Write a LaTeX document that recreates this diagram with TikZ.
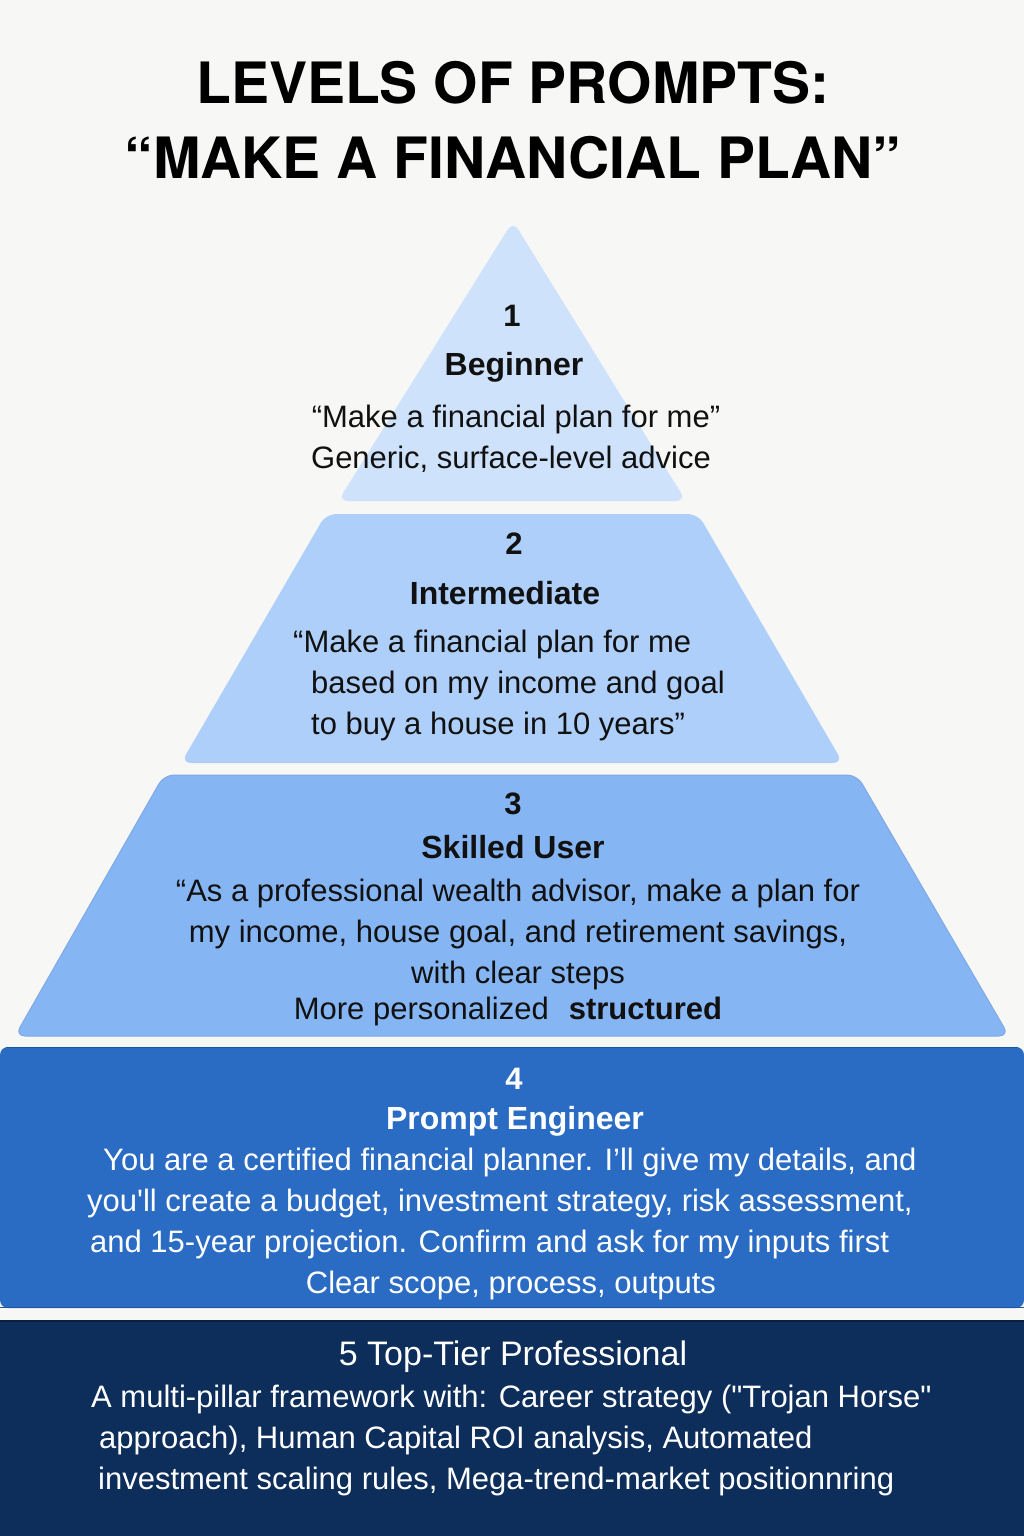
\documentclass[tikz,border=0pt]{standalone}
\usepackage{fontspec}
\setmainfont{Liberation Sans}
\newfontfamily\titlefont{TeX Gyre Heros}
\definecolor{bgcol}{HTML}{F7F7F5}
\definecolor{tierA}{HTML}{CFE2FC}
\definecolor{tierB}{HTML}{AECFFA}
\definecolor{tierC}{HTML}{86B5F4}
\definecolor{tierD}{HTML}{2A6BC3}
\definecolor{tierE}{HTML}{0D2D5B}
\definecolor{inkcol}{HTML}{111111}
\tikzset{
  numtxt/.style={inner sep=0pt, text=inkcol, font=\fontsize{31}{36}\selectfont\bfseries},
  headtxt/.style={inner sep=0pt, text=inkcol, font=\fontsize{32}{38}\selectfont\bfseries},
  bodytxt/.style={inner sep=0pt, text=inkcol, font=\fontsize{31}{41}\selectfont},
  slab/.style={rounded corners=10pt}
}
\begin{document}
\begin{tikzpicture}[x=1pt,y=-1pt]
 \def\W{1024}
 \def\H{1536}

 \useasboundingbox (0,0) rectangle (\W,\H);
 \fill[bgcol] (0,0) rectangle (\W,\H);

 \path coordinate (T1) at (513,221)
  coordinate (L1) at (338,501)
  coordinate (R1) at (686,501)
  coordinate (A2) at (326,514)
  coordinate (B2) at (698,514)
  coordinate (C2) at (843,763)
  coordinate (D2) at (181,763)
  coordinate (A3) at (164,775)
  coordinate (B3) at (857,775)
  coordinate (C3) at (1009,1036)
  coordinate (D3) at (15,1036);

 %Tiers 1-3
 \fill[tierA, slab] (T1) -- (R1) -- (L1) -- cycle;
 \fill[tierB, slab] (A2) -- (B2) -- (C2) -- (D2) -- cycle;
 \draw[tierC!85!black!40!tierC, fill=tierC, slab, line width=1pt] (A3) -- (B3) -- (C3) -- (D3) -- cycle;

 %Tiers 4-5
 \fill[tierD, rounded corners=8pt] (0,1308) -- (0,1047) -- (\W,1047) -- (\W,1308) -- cycle;
 \draw[tierD!80!black, line width=1.5pt] (6,1047.5) -- (\W-6,1047.5);
 \draw[tierD!80!black, line width=1.5pt] (0,1307.5) -- (\W,1307.5);
 \fill[tierE] (0,1321) rectangle (\W,\H);
 \draw[tierE!70!black, line width=1.5pt] (0,1321) -- (\W,1321);

 %Title
 \node(title)[inner sep=0pt, text=black, align=center,
   font=\titlefont\fontsize{57}{75}\selectfont\bfseries] at (513,120)
   {LEVELS OF PROMPTS:\\“MAKE A FINANCIAL PLAN”};

 %1st Tier
 \node(num1)[numtxt] at (512,316) {1};
 \node(head1)[headtxt] at (514,367) {Beginner};
 \node(body1)[bodytxt, align=center] at (511,439)
   {\hspace*{10pt}“Make a financial plan for me”\\Generic, surface-level advice};

 %2nd Tier
 \node(num2)[numtxt] at (514,544) {2};
 \node(head2)[headtxt] at (505,593) {Intermediate};
 \node(body2)[bodytxt, align=left, anchor=west] at (293,685)
   {“Make a financial plan for me\\
    \hspace*{18pt}based on my income and goal\\
    \hspace*{18pt}to buy a house in 10 years”};

 %3rd Tier
 \node(num3)[numtxt] at (513,804) {3};
 \node(head3)[headtxt] at (513,847) {Skilled User};
 \node(body3)[bodytxt, align=center] at (518,934)
   {“As a professional wealth advisor, make a plan for\\
    my income, house goal, and retirement savings,\\
    with clear steps};
 \node(note3)[bodytxt] at (508,1011) {More personalized\hspace{20pt}\textbf{structured}};

 %4th Tier
 \node(num4)[numtxt, text=white] at (514,1079) {4};
 \node(head4)[headtxt, text=white] at (515,1121) {Prompt Engineer};
 \node(body4)[bodytxt, text=white, align=left, anchor=west] at (87,1203)
   {\hspace*{16pt}You are a certified financial planner. I’ll give my details, and\\
    you\textquotesingle ll create a budget, investment strategy, risk assessment,\\
    \hspace*{3pt}and 15-year projection. Confirm and ask for my inputs first};
 \node(note4)[bodytxt, text=white] at (511,1285) {Clear scope, process, outputs};

 %5th Tier
 \node(head5)[headtxt, text=white, font=\fontsize{34}{38}\selectfont] at (513,1357) {5 Top-Tier Professional};
 \node(body5)[bodytxt, text=white, align=left, anchor=west] at (91,1440)
   {A multi-pillar framework with: Career strategy (\textquotedbl Trojan Horse\textquotedbl\\
    \hspace*{8pt}approach), Human Capital ROI analysis, Automated\\
    \hspace*{7pt}investment scaling rules, Mega-trend-market positionnring};
\end{tikzpicture}
\end{document}
